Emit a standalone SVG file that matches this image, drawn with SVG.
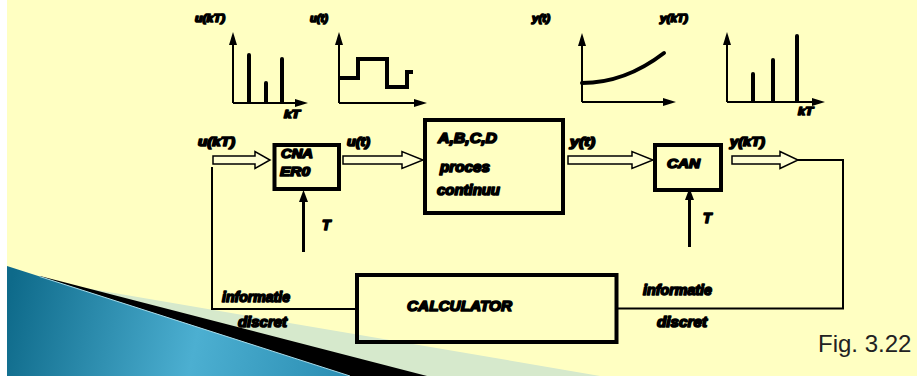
<svg xmlns="http://www.w3.org/2000/svg" width="917" height="376" viewBox="0 0 917 376">
<defs>
<style>
.lbl{font-family:"Liberation Sans",Arial,sans-serif;font-weight:bold;font-style:italic;fill:#000;stroke:#000;stroke-width:1.6;stroke-linejoin:round}
.ax{stroke:#000;stroke-width:2;fill:none}
.bar{stroke:#000;stroke-width:4;stroke-linecap:round;fill:none}
.sig{stroke:#000;stroke-width:4;fill:none;stroke-linejoin:miter}
.box{fill:none;stroke:#000;stroke-width:4}
.ha{fill:#ffffd2;stroke:#000;stroke-width:1.5;stroke-linejoin:miter}
.wire{stroke:#000;stroke-width:2;fill:none}
.head{fill:#000}
</style>
<linearGradient id="bl" gradientUnits="userSpaceOnUse" x1="7" y1="300" x2="350" y2="376">
<stop offset="0" stop-color="#0e6a8a"/>
<stop offset="0.55" stop-color="#4cafd1"/>
<stop offset="1" stop-color="#2a8db2"/>
</linearGradient>
</defs>
<rect x="0" y="0" width="917" height="376" fill="#ffffff"/>
<rect x="7" y="0" width="910" height="376" fill="#ffffc2"/>
<g id="decor">
<polygon points="85,288 600,376 85,376" fill="#d6e9cc"/>
<polygon points="40,276 427,376 40,376" fill="#000"/>
<polygon points="7,266 350,376 7,376" fill="url(#bl)"/>
<line x1="40" y1="276.6" x2="350" y2="376" stroke="#a8dcea" stroke-width="1"/>
</g>
<g id="graph-ukT">
<line class="ax" x1="233" y1="103" x2="233" y2="44"/>
<polygon class="head" points="233,32 229,45 237,45"/>
<line class="ax" x1="233" y1="103" x2="296" y2="103"/>
<polygon class="head" points="308,103 295,99 295,107"/>
<line class="bar" x1="249" y1="102" x2="249" y2="55"/>
<line class="bar" x1="266" y1="102" x2="266" y2="83"/>
<line class="bar" x1="282" y1="102" x2="282" y2="59"/>
<text class="lbl" x="195" y="22" font-size="10.5" textLength="30" lengthAdjust="spacingAndGlyphs">u(kT)</text>
<text class="lbl" x="284" y="118" font-size="11" textLength="16" lengthAdjust="spacingAndGlyphs">kT</text>
</g>
<g id="graph-ut">
<line class="ax" x1="339" y1="103" x2="339" y2="44"/>
<polygon class="head" points="339,32 335,45 343,45"/>
<line class="ax" x1="339" y1="103" x2="415" y2="103"/>
<polygon class="head" points="427,103 414,99 414,107"/>
<polyline class="sig" points="338,78 358,78 358,59 387,59 387,87 407,87 407,72 413,72"/>
<text class="lbl" x="310" y="22" font-size="10.5" textLength="18" lengthAdjust="spacingAndGlyphs">u(t)</text>
</g>
<g id="graph-yt">
<line class="ax" x1="582" y1="102" x2="582" y2="45"/>
<polygon class="head" points="582,33 578,46 586,46"/>
<line class="ax" x1="582" y1="102" x2="664" y2="102"/>
<polygon class="head" points="676,102 663,98 663,106"/>
<path d="M582,83 Q625,83 664,53" stroke="#000" stroke-width="4" stroke-linecap="round" fill="none"/>
<text class="lbl" x="532" y="22" font-size="10.5" textLength="18" lengthAdjust="spacingAndGlyphs">y(t)</text>
</g>
<g id="graph-ykT">
<line class="ax" x1="727" y1="102" x2="727" y2="44"/>
<polygon class="head" points="727,32 723,45 731,45"/>
<line class="ax" x1="727" y1="102" x2="813" y2="102"/>
<polygon class="head" points="825,102 812,98 812,106"/>
<line class="bar" x1="753" y1="101" x2="753" y2="74"/>
<line class="bar" x1="773" y1="101" x2="773" y2="60"/>
<line class="bar" x1="797" y1="101" x2="797" y2="36"/>
<text class="lbl" x="660" y="22" font-size="10.5" textLength="28" lengthAdjust="spacingAndGlyphs">y(kT)</text>
<text class="lbl" x="798" y="115" font-size="11" textLength="15" lengthAdjust="spacingAndGlyphs">kT</text>
</g>
<g id="CNA">
<rect class="box" x="274.5" y="145" width="64.5" height="44"/>
<text class="lbl" x="281" y="158" font-size="13" textLength="32" lengthAdjust="spacingAndGlyphs">CNA</text>
<text class="lbl" x="280" y="176" font-size="13" textLength="30" lengthAdjust="spacingAndGlyphs">ER0</text>
</g>
<g id="process">
<rect class="box" x="425" y="120" width="138" height="93"/>
<text class="lbl" x="438" y="143" font-size="14" textLength="59" lengthAdjust="spacingAndGlyphs">A,B,C,D</text>
<text class="lbl" x="440" y="172" font-size="14" textLength="50" lengthAdjust="spacingAndGlyphs">proces</text>
<text class="lbl" x="437" y="195" font-size="14" textLength="63" lengthAdjust="spacingAndGlyphs">continuu</text>
</g>
<g id="CAN">
<rect class="box" x="655" y="145" width="66" height="45"/>
<text class="lbl" x="667" y="168" font-size="13" textLength="33" lengthAdjust="spacingAndGlyphs">CAN</text>
</g>
<g id="calculator">
<rect class="box" x="357" y="275" width="259.5" height="67" stroke-width="3.5"/>
<text class="lbl" x="407" y="311" font-size="15" textLength="105" lengthAdjust="spacingAndGlyphs">CALCULATOR</text>
</g>
<g id="connectors">
<path class="ha" d="M213,156 H255 V151.5 L270,160 L255,168.5 V164 H213 Z"/>
<path class="ha" d="M343,156 H402 V151.5 L423,160 L402,168.5 V164 H343 Z"/>
<path class="ha" d="M568,156 H632 V151.5 L653,160 L632,168.5 V164 H568 Z"/>
<path class="ha" d="M732,156 H780 V151.5 L798,160 L780,168.5 V164 H732 Z"/>
<line x1="303.5" y1="252" x2="303.5" y2="200" stroke="#000" stroke-width="3"/>
<polygon class="head" points="303.5,190 299,202 308,202"/>
<line x1="689.5" y1="247" x2="689.5" y2="198" stroke="#000" stroke-width="3"/>
<polygon class="head" points="689.5,188 685,200 694,200"/>
<polyline class="wire" points="212,167 212,309 356,309"/>
<polyline class="wire" points="798,160 843,160 843,308.5 618,308.5"/>
<text class="lbl" x="322" y="230" font-size="14">T</text>
<text class="lbl" x="703" y="223" font-size="14">T</text>
<text class="lbl" x="198" y="146" font-size="12" textLength="37" lengthAdjust="spacingAndGlyphs">u(kT)</text>
<text class="lbl" x="347" y="146" font-size="12" textLength="23" lengthAdjust="spacingAndGlyphs">u(t)</text>
<text class="lbl" x="570" y="146" font-size="12" textLength="25" lengthAdjust="spacingAndGlyphs">y(t)</text>
<text class="lbl" x="730" y="146" font-size="12" textLength="35" lengthAdjust="spacingAndGlyphs">y(kT)</text>
<text class="lbl" x="222" y="302" font-size="14" textLength="68" lengthAdjust="spacingAndGlyphs">informatie</text>
<text class="lbl" x="238" y="327" font-size="14" textLength="49" lengthAdjust="spacingAndGlyphs">discret</text>
<text class="lbl" x="643" y="295" font-size="14" textLength="69" lengthAdjust="spacingAndGlyphs">informatie</text>
<text class="lbl" x="657" y="327" font-size="14" textLength="50" lengthAdjust="spacingAndGlyphs">discret</text>
</g>
<text x="818" y="352" font-family="Liberation Sans, Arial, sans-serif" font-size="24" fill="#222">Fig. 3.22</text>
</svg>
